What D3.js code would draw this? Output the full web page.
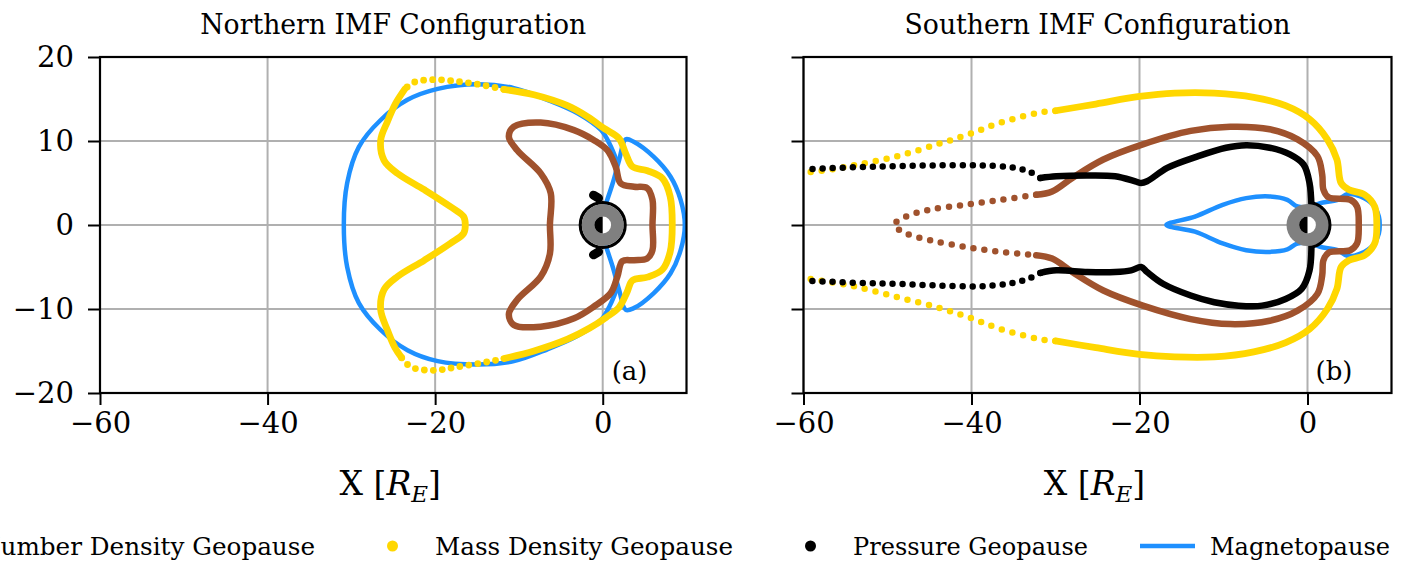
<!DOCTYPE html>
<html><head><meta charset="utf-8">
<script src="https://cdn.jsdelivr.net/npm/d3@7"></script>
<style>
body{margin:0;background:#fff}
svg{display:block}
text{font-family:"DejaVu Serif","Liberation Serif",serif;fill:#000}
</style>
</head><body>
<svg id="c" width="1410" height="563"></svg>
<script>
// ---------- DATA (X, Y in Earth radii) ----------
const titles = ["Northern IMF Configuration", "Southern IMF Configuration"];
const panelLabels = ["(a)", "(b)"];
const xTicks = [-60, -40, -20, 0];
const yTicks = [-20, -10, 0, 10, 20];
const xDomain = [-60, 10];
const yDomain = [-20, 20];
const legendLabels = ["Number Density Geopause", "Mass Density Geopause", "Pressure Geopause", "Magnetopause"];

// Northern IMF — magnetopause
const nBlueDay = [[0.4,2.6],[1.2,5.0],[1.95,7.7],[2.75,10.2],[3.7,9.9],[6.1,8.1],[8.1,5.75],[9.3,3.0],[9.8,0],[9.3,-3.0],[8.1,-5.75],[6.1,-8.1],[3.7,-9.9],[2.75,-10.1],[1.95,-7.7],[1.2,-5.0],[0.4,-2.6]];
const nBlueNight = [[1.7,7.6],[0.8,9.7],[-0.2,11.3],[-3.0,13.3],[-6.6,14.9],[-10.6,16.3],[-15,16.75],[-19.7,16.2],[-23.3,14.9],[-26.5,12.5],[-29.1,9.3],[-30.5,5.0],[-30.9,0],[-30.5,-5.0],[-29.1,-9.3],[-26.5,-12.5],[-23.3,-14.9],[-19.7,-16.2],[-15,-16.6],[-10.6,-16.2],[-6.6,-14.8],[-3.0,-13.2],[-0.2,-11.3],[0.8,-9.7],[1.7,-7.6]];
// Northern IMF — number density geopause (closed)
const nNum = [[5.94,0],[5.94,3.0],[5.3,4.4],[3.74,4.56],[2.15,4.96],[1.55,6.94],[0.56,8.9],[-1.04,10.1],[-3.43,11.3],[-7.4,12.2],[-10.6,11.7],[-11.2,10.5],[-10.2,8.9],[-7.4,6.15],[-6.2,3.77],[-6.3,0],[-6.3,-3.4],[-7.4,-6.15],[-10.2,-8.9],[-11.2,-10.6],[-10.6,-11.9],[-7.4,-12.1],[-3.4,-11.1],[-1.04,-9.7],[0.96,-8.1],[1.75,-6.15],[2.35,-4.3],[3.74,-4.2],[5.3,-4.0],[5.94,-3.0]];
// Northern IMF — mass density geopause
const nMassDenseA = [[-11.8,16.15],[-8.2,15.5],[-4.2,14.2],[-1.83,12.9],[0.16,11.5],[1.95,10.3],[2.75,8.5],[3.55,6.95],[5.34,6.46],[7.13,5.55],[8.05,3.4],[8.3,0],[8.05,-3.2],[7.13,-5.3],[5.34,-6.2],[3.55,-6.6],[2.9,-8.0],[1.95,-9.8],[0.4,-11.0],[-1.6,-12.3],[-4.2,-13.6],[-8.2,-15.0],[-11.8,-15.9]];
const nMassSparseTop = [[-11.8,16.15],[-14.6,16.7],[-17.4,17.1],[-20.2,17.3],[-22.5,17.0],[-23.6,16.2]];
const nMassDenseB = [[-23.6,16.2],[-24.7,14.5],[-25.7,12.3],[-26.5,10.1],[-26.1,7.7],[-24.5,6.15],[-21.3,4.2],[-18.2,2.2],[-16.6,1.0],[-16.4,0],[-16.6,-1.0],[-18.2,-2.2],[-21.3,-4.2],[-24.5,-6.15],[-26.1,-7.7],[-26.5,-10.1],[-25.7,-12.5],[-24.8,-14.6],[-24.0,-15.8]];
const nMassSparseBot = [[-24.0,-15.8],[-22.9,-16.9],[-20.2,-17.3],[-17.4,-16.9],[-13.8,-16.3],[-11.8,-15.9]];
// Northern IMF — pressure geopause
const nPresTop = [[-1.1,3.55],[-0.5,3.2]];
const nPresBot = [[-1.1,-3.55],[-0.5,-3.2]];

// Southern IMF — magnetopause (closed)
const sBlue = [[-16.8,0],[-13.4,1.0],[-10.1,2.4],[-7.3,3.2],[-4.5,3.4],[-2.4,3.0],[-1.2,2.2],[0.5,2.2],[1.5,2.6],[3.6,3.0],[4.8,3.7],[6.3,3.4],[7.8,2.4],[8.5,1.0],[8.6,0],[8.5,-1.0],[7.8,-2.4],[6.3,-3.4],[4.8,-3.7],[3.6,-3.0],[1.5,-2.6],[0.5,-2.2],[-1.2,-2.2],[-2.4,-2.9],[-4.5,-3.2],[-7.3,-3.0],[-10.1,-2.2],[-13.4,-0.8]];
// Southern IMF — number density geopause
const sNumDense = [[-32.3,3.6],[-30.4,4.0],[-28.0,5.6],[-24.3,7.8],[-19.6,9.6],[-13.9,11.2],[-9.2,11.7],[-4.5,11.4],[-1.18,10.2],[1.18,8.2],[1.75,6.0],[1.9,4.2],[2.5,3.3],[5.1,3.0],[5.9,2.2],[6.1,0],[5.9,-2.2],[5.1,-3.0],[2.5,-3.3],[1.9,-4.2],[1.75,-6.0],[1.18,-8.2],[-1.18,-10.2],[-4.5,-11.4],[-9.2,-11.8],[-13.9,-11.2],[-19.6,-9.6],[-24.3,-7.8],[-28.0,-5.6],[-30.4,-4.0],[-32.3,-3.6]];
const sNumSparse = [[-32.3,3.6],[-36.5,3.0],[-40.8,2.4],[-45.0,1.8],[-47.8,1.0],[-49.2,0],[-47.8,-1.0],[-45.0,-1.8],[-40.8,-2.6],[-36.5,-3.2],[-32.3,-3.6]];
// Southern IMF — mass density geopause
const sMassDense = [[-30,13.6],[-25.2,14.4],[-20.0,15.3],[-15.8,15.7],[-11.1,15.7],[-6.4,15.2],[-2.6,14.2],[0.24,12.6],[2.36,10.2],[3.5,7.8],[4.0,5.0],[4.95,4.2],[6.8,3.6],[8.0,2.2],[8.25,0],[8.0,-2.2],[6.8,-3.6],[4.95,-4.2],[4.0,-5.0],[3.5,-7.6],[2.36,-10.0],[0.24,-12.4],[-2.6,-14.0],[-6.4,-15.1],[-11.1,-15.7],[-15.8,-15.7],[-20.0,-15.4],[-25.2,-14.6],[-30,-13.8]];
const sMassSparseTop = [[-30,13.6],[-31.8,13.4],[-36.5,12.2],[-40.3,10.8],[-44.1,9.6],[-48.8,8.2],[-53.5,7.2],[-56.8,6.6],[-60,6.2]];
const sMassSparseBot = [[-30,-13.8],[-31.8,-13.6],[-36.5,-12.4],[-40.3,-11.0],[-44.1,-9.8],[-48.8,-8.6],[-53.5,-7.4],[-56.8,-6.8],[-60,-6.3]];
// Southern IMF — pressure geopause
const sPresTopDense = [[-31.8,5.6],[-29.9,5.8],[-26.2,5.9],[-22.9,5.8],[-20.5,5.2],[-19.8,5.0],[-19.1,5.2],[-16.7,6.8],[-13.0,8.2],[-9.7,9.2],[-7.3,9.5],[-4.5,9.2],[-2.1,8.4],[-0.47,7.2],[0.24,5.0],[0.47,2.2]];
const sPresBotDense = [[0.47,-2.2],[0.24,-5.4],[-0.7,-7.6],[-2.6,-8.8],[-5.4,-9.6],[-8.2,-9.6],[-11.1,-9.2],[-13.9,-8.4],[-17.2,-7.0],[-19.1,-5.6],[-19.8,-5.0],[-21.0,-5.4],[-22.9,-5.6],[-26.2,-5.6],[-29.9,-5.4],[-31.8,-5.7]];
const sPresTopSparse = [[-31.8,5.6],[-33.2,6.4],[-35.6,6.9],[-39.3,7.1],[-44.1,7.1],[-48.8,7.0],[-53.5,6.9],[-60,6.6]];
const sPresBotSparse = [[-31.8,-5.7],[-33.2,-6.4],[-35.6,-7.0],[-39.3,-7.3],[-44.1,-7.2],[-48.8,-7.0],[-53.5,-6.9],[-60,-6.6]];

// Earth / inner boundary radii (R_E)
const earthRadius = 1;
const innerBoundary = 2.5;

// ---------- STYLE ----------
const C = {num:"#A0522D", mass:"#FFD700", pres:"#000000", mp:"#1E90FF", grid:"#b0b0b0", earth:"#808080"};
const FF = '"DejaVu Serif","Liberation Serif",serif';

const panels = [
  {x0:100, x1:686.5, showYLabels:true, title:titles[0], label:panelLabels[0], fullRing:true,
   layers:[
     {d:nBlueNight, c:C.mp, w:4.5}, {d:nBlueDay, c:C.mp, w:4.5},
     {d:nNum, c:C.num, w:6.5, closed:true},
     {d:nMassDenseA, c:C.mass, w:6.8}, {d:nMassDenseB, c:C.mass, w:6.8},
     {d:nMassSparseTop, c:C.mass, w:6.8, dots:9}, {d:nMassSparseBot, c:C.mass, w:6.8, dots:9},
     {d:nPresTop, c:C.pres, w:9}, {d:nPresBot, c:C.pres, w:9}
   ]},
  {x0:803.5, x1:1391.5, showYLabels:false, title:titles[1], label:panelLabels[1], fullRing:false,
   layers:[
     {d:sBlue, c:C.mp, w:4.5, closed:true},
     {d:sNumDense, c:C.num, w:6.5}, {d:sNumSparse, c:C.num, w:6.5, dots:11},
     {d:sMassDense, c:C.mass, w:6.8}, {d:sMassSparseTop, c:C.mass, w:6.5, dots:11}, {d:sMassSparseBot, c:C.mass, w:6.5, dots:11},
     {d:sPresTopDense, c:C.pres, w:6.5}, {d:sPresBotDense, c:C.pres, w:6.5},
     {d:sPresTopSparse, c:C.pres, w:6.5, dots:10}, {d:sPresBotSparse, c:C.pres, w:6.5, dots:10}
   ]}
];

const svg = d3.select("#c");
const Y0 = 57, Y1 = 393;
const y = d3.scaleLinear().domain(yDomain).range([Y1, Y0]);
const fmt = d3.format("d");

panels.forEach((p, i) => {
  const x = d3.scaleLinear().domain(xDomain).range([p.x0, p.x1]);
  const g = svg.append("g");
  const clipId = "clip" + i;
  svg.append("clipPath").attr("id", clipId).append("rect")
    .attr("x", p.x0).attr("y", Y0).attr("width", p.x1 - p.x0).attr("height", Y1 - Y0);

  // grid
  g.append("g").selectAll("line").data(xTicks).join("line")
    .attr("x1", d => x(d)).attr("x2", d => x(d)).attr("y1", Y0).attr("y2", Y1)
    .attr("stroke", C.grid).attr("stroke-width", 2);
  g.append("g").selectAll("line").data(yTicks).join("line")
    .attr("x1", p.x0).attr("x2", p.x1).attr("y1", d => y(d)).attr("y2", d => y(d))
    .attr("stroke", C.grid).attr("stroke-width", 2);

  // data
  const dg = g.append("g").attr("clip-path", `url(#${clipId})`);
  p.layers.forEach(L => {
    const line = d3.line().x(d => x(d[0])).y(d => y(d[1]))
      .curve(L.closed ? d3.curveCatmullRomClosed.alpha(0.5) : d3.curveCatmullRom.alpha(0.5));
    const path = dg.append("path").attr("d", line(L.d))
      .attr("fill", "none").attr("stroke", L.c).attr("stroke-width", L.w)
      .attr("stroke-linecap", "round").attr("stroke-linejoin", "round");
    if (L.dots) path.attr("stroke-dasharray", `0 ${L.dots}`);
  });

  // Earth
  const kx = Math.abs(x(1) - x(0));
  const cx = x(0), cy = y(0);
  const eg = dg.append("g").attr("transform", `translate(${cx},${cy})`);
  const rIn = innerBoundary * kx;
  if (p.fullRing) {
    eg.append("circle").attr("r", rIn + 1.5).attr("fill", "none").attr("stroke", "#000").attr("stroke-width", 3.2);
  } else {
    eg.append("path").attr("d", d3.arc().innerRadius(rIn - 1).outerRadius(rIn + 3).startAngle(0.1).endAngle(Math.PI - 0.1)())
      .attr("fill", "#000");
  }
  eg.append("circle").attr("r", rIn).attr("fill", C.earth);
  eg.append("circle").attr("r", earthRadius * kx).attr("fill", "#fff");
  eg.append("path").attr("d", d3.arc().innerRadius(0).outerRadius(earthRadius * kx).startAngle(Math.PI).endAngle(2 * Math.PI)())
    .attr("fill", "#000");

  // axes
  const ax = g.append("g").attr("transform", `translate(0,${Y1})`)
    .call(d3.axisBottom(x).tickValues(xTicks).tickSize(12).tickPadding(7).tickFormat(fmt));
  ax.attr("font-family", FF);
  ax.select(".domain").remove();
  ax.selectAll(".tick line").attr("stroke", "#000").attr("stroke-width", 2);
  ax.selectAll(".tick text").attr("font-size", 29).attr("fill", "#000");

  const ay = g.append("g").attr("transform", `translate(${p.x0},0)`)
    .call(d3.axisLeft(y).tickValues(yTicks).tickSize(12).tickPadding(14).tickFormat(p.showYLabels ? fmt : () => ""));
  ay.attr("font-family", FF);
  ay.select(".domain").remove();
  ay.selectAll(".tick line").attr("stroke", "#000").attr("stroke-width", 2);
  ay.selectAll(".tick text").attr("font-size", 29).attr("fill", "#000");

  // frame
  g.append("rect").attr("x", p.x0).attr("y", Y0).attr("width", p.x1 - p.x0).attr("height", Y1 - Y0)
    .attr("fill", "none").attr("stroke", "#000").attr("stroke-width", 2.2);

  const mid = (p.x0 + p.x1) / 2;
  // title
  g.append("text").attr("x", mid).attr("y", 34).attr("text-anchor", "middle")
    .attr("font-size", 27).attr("textLength", 386).attr("lengthAdjust", "spacingAndGlyphs").text(p.title);
  // panel label
  g.append("text").attr("x", p.x1 - 39).attr("y", 380).attr("text-anchor", "end")
    .attr("font-size", 26).text(p.label);
  // x label
  const t = g.append("text").attr("x", mid - 3).attr("y", 495).attr("text-anchor", "middle").attr("font-size", 33);
  t.append("tspan").text("X [");
  t.append("tspan").attr("font-style", "italic").text("R");
  t.append("tspan").attr("font-style", "italic").attr("font-size", 23).attr("dy", 7).text("E");
  t.append("tspan").attr("dy", -7).text("]");
});

// legend
const legendItems = [
  {label:legendLabels[0], type:"dot", c:C.num, hx:-91, tw:336},
  {label:legendLabels[1], type:"dot", c:C.mass, hx:365, tw:298},
  {label:legendLabels[2], type:"dot", c:C.pres, hx:783, tw:235},
  {label:legendLabels[3], type:"line", c:C.mp, hx:1140, tw:180}
];
const lg = svg.append("g");
const LY = 546;
legendItems.forEach(it => {
  if (it.type === "dot") {
    lg.append("circle").attr("cx", it.hx + 27.5).attr("cy", LY).attr("r", 5.5).attr("fill", it.c);
  } else {
    lg.append("line").attr("x1", it.hx).attr("x2", it.hx + 55).attr("y1", LY).attr("y2", LY)
      .attr("stroke", it.c).attr("stroke-width", 4.5);
  }
  lg.append("text").attr("x", it.hx + 70).attr("y", 555).attr("font-size", 25)
    .attr("textLength", it.tw).attr("lengthAdjust", "spacingAndGlyphs").text(it.label);
});
</script>
</body></html>
